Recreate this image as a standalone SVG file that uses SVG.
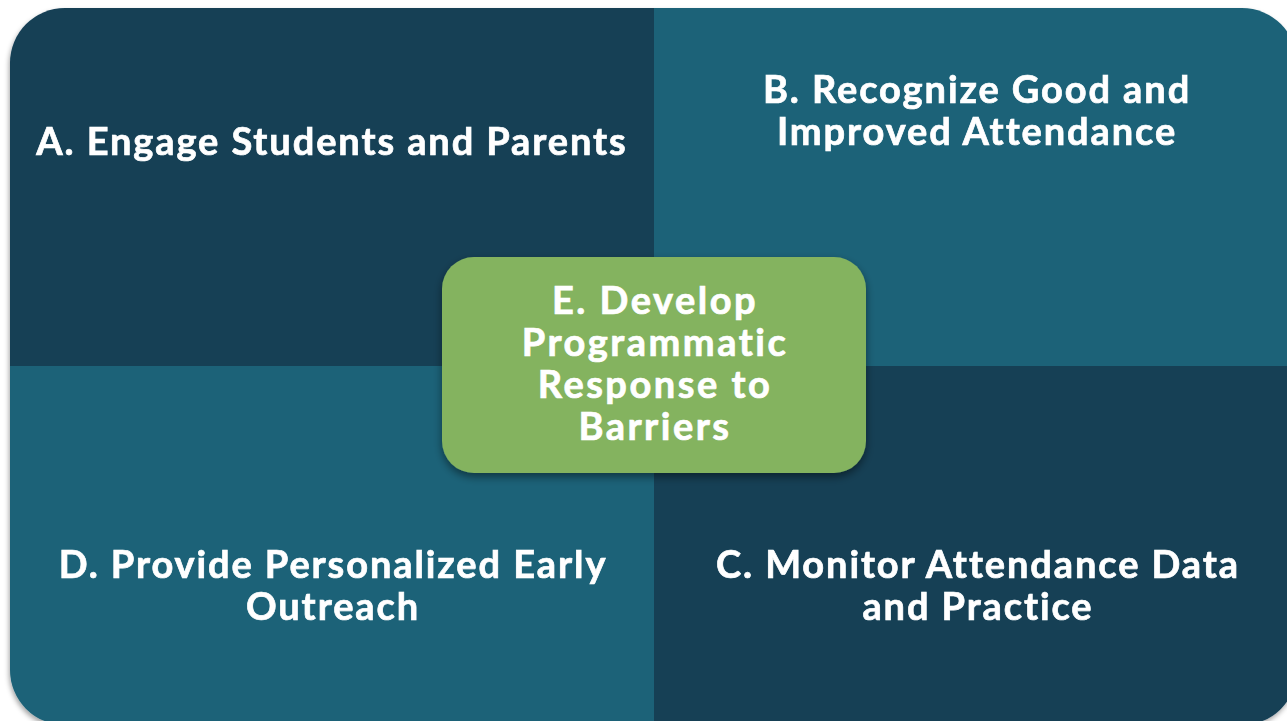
<svg xmlns="http://www.w3.org/2000/svg" width="1287" height="721" viewBox="0 0 1287 721">
<style>
.t{font-family:Lato,"Open Sans","Liberation Sans",sans-serif;font-weight:700;fill:#ffffff;stroke:#ffffff;stroke-width:0.7px;text-anchor:middle;font-size:38px;letter-spacing:1.9px;font-variant-ligatures:none}
.e{letter-spacing:2.5px}
.dark{fill:#143f55}
.light{fill:#1c6278}
</style>
<defs>
<clipPath id="outer"><rect x="10" y="8" width="1287" height="717" rx="55" ry="55"/></clipPath>
<filter id="sh" x="-5%" y="-5%" width="110%" height="115%"><feDropShadow dx="-1" dy="3" stdDeviation="2.5" flood-color="#000" flood-opacity="0.35"/></filter>
<filter id="sh2" x="-10%" y="-10%" width="120%" height="130%"><feDropShadow dx="0" dy="4" stdDeviation="4" flood-color="#000" flood-opacity="0.45"/></filter>
</defs>
<rect width="1287" height="721" fill="#ffffff"/>
<g filter="url(#sh)">
<g clip-path="url(#outer)">
<g id="nodeA"><rect class="dark" x="10" y="8" width="644" height="358"/><text class="t" x="332" y="155">A. Engage Students and Parents</text></g>
<g id="nodeB"><rect class="light" x="654" y="8" width="643" height="358"/><text class="t" x="977" y="103">B. Recognize Good and</text><text class="t" x="977" y="145">Improved Attendance</text></g>
<g id="nodeD"><rect class="light" x="10" y="366" width="644" height="359"/><text class="t" x="333" y="578">D. Provide Personalized Early</text><text class="t" x="333" y="620">Outreach</text></g>
<g id="nodeC"><rect class="dark" x="654" y="366" width="643" height="359"/><text class="t" x="978" y="578">C. Monitor Attendance Data</text><text class="t" x="978" y="620">and Practice</text></g>
</g>
</g>
<g id="connectors"/>
<g id="nodeE">
<rect x="442" y="257" width="424" height="216" rx="32" ry="32" fill="#84b35f" filter="url(#sh2)"/>
<text class="t e" x="655" y="314">E. Develop</text>
<text class="t e" x="655" y="356">Programmatic</text>
<text class="t e" x="655" y="398">Response to</text>
<text class="t e" x="655" y="440">Barriers</text>
</g>
</svg>
